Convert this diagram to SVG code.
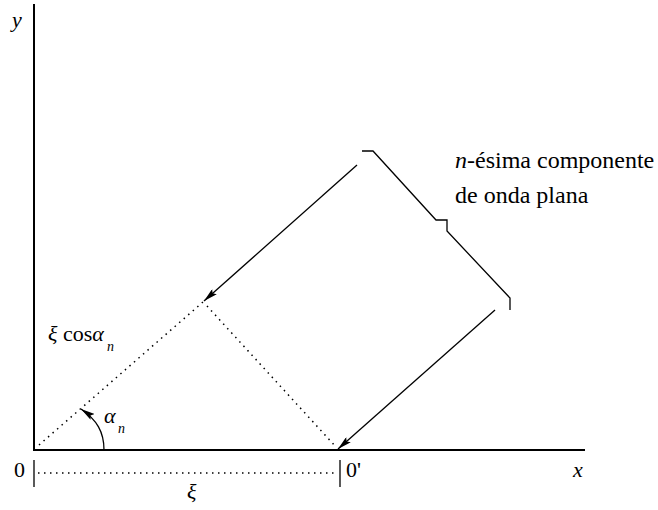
<svg xmlns="http://www.w3.org/2000/svg" width="658" height="510" viewBox="0 0 658 510">
<style>
.ax{stroke:#000;stroke-width:2;fill:none}
.ln{stroke:#000;stroke-width:1.3;fill:none}
.dot{stroke:#000;stroke-width:1.5;fill:none;stroke-dasharray:1.5 4.5}
.t{font-family:"Liberation Serif","Times New Roman",serif;font-size:22px;fill:#000}
.i{font-style:italic}
.s{font-size:14px}
</style>
<defs>
<marker id="ah" viewBox="0 0 14 7" refX="14" refY="3.5" markerWidth="14" markerHeight="7" markerUnits="userSpaceOnUse" orient="auto">
<path d="M0,0 L14,3.5 L0,7 L2.5,3.5 Z" fill="#000"/>
</marker>
</defs>
<g id="axes">
<line class="ax" x1="34" y1="4" x2="34" y2="451"/>
<line class="ax" x1="33" y1="450" x2="585" y2="450"/>
</g>
<g id="connectors">
<line class="dot" x1="39" y1="445" x2="203" y2="302"/>
<line class="dot" x1="207" y1="306" x2="336" y2="447"/>
<line class="ln" x1="357" y1="165" x2="204" y2="301" marker-end="url(#ah)"/>
<line class="ln" x1="495" y1="310" x2="338" y2="449" marker-end="url(#ah)"/>
<path class="ln" d="M104,450 C104,432 97,420 81,409" marker-end="url(#ah)"/>
<line class="dot" x1="38" y1="473" x2="337" y2="473"/>
<line class="ln" x1="34" y1="460" x2="34" y2="487"/>
<line class="ln" x1="340" y1="460" x2="340" y2="487"/>
</g>
<g id="brace">
<path class="ln" d="M362,151 L373,151 L436,220 L447,220 L447,231 L510,298 L510,310"/>
</g>
<g id="labels">
<text class="t i" x="12" y="27">y</text>
<text class="t i" x="573" y="477">x</text>
<text class="t" x="14" y="477">0</text>
<text class="t" x="346" y="477">0'</text>
<text class="t i" x="187" y="499">ξ</text>
<text class="t" x="48" y="341"><tspan class="i">ξ</tspan> cos<tspan class="i">α</tspan></text>
<text class="t i s" x="107" y="351">n</text>
<text class="t i" x="104" y="423">α</text>
<text class="t i s" x="118" y="433">n</text>
<text class="t" x="455" y="168" style="font-size:24px"><tspan class="i">n</tspan>-ésima componente</text>
<text class="t" x="455" y="203" style="font-size:24px">de onda plana</text>
</g>
</svg>
